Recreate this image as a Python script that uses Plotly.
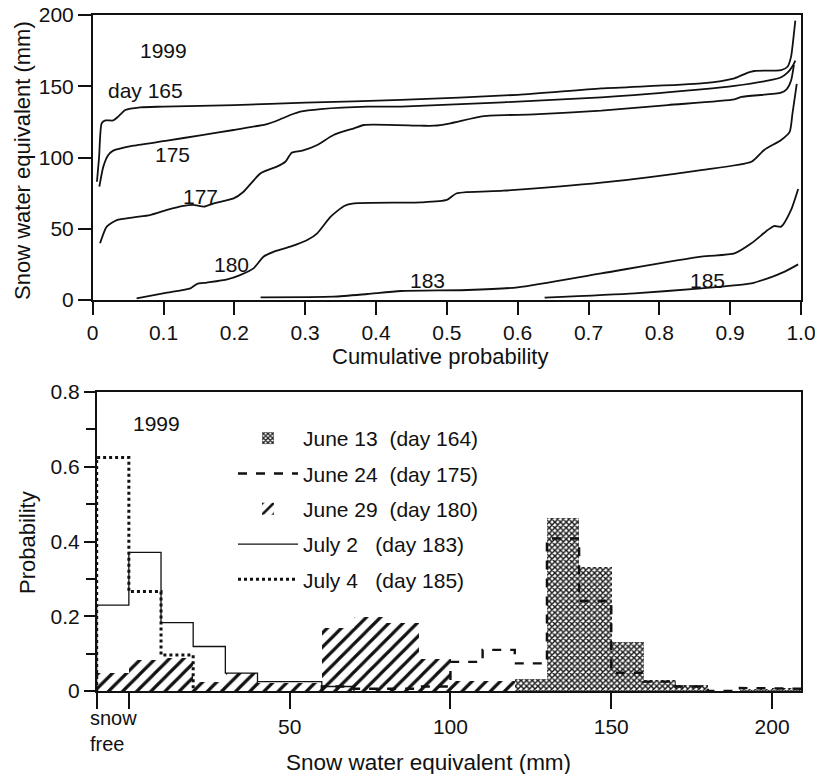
import plotly.graph_objects as go

# ---------------- Top panel: cumulative probability curves ----------------
p165 = [0.006, 0.009, 0.0127, 0.018, 0.029, 0.036, 0.046, 0.067, 0.10, 0.20, 0.30, 0.435, 0.60, 0.718, 0.859, 0.906, 0.925, 0.934, 0.972, 0.981, 0.986, 0.990, 0.992]
v165 = [83, 100, 124, 126, 126, 128.7, 133.3, 135.2, 135.7, 136.8, 138.5, 140.4, 144, 148.5, 152, 155.6, 159.5, 160.7, 161.4, 163.7, 170.8, 187, 196]

p175 = [0.0094, 0.015, 0.022, 0.029, 0.0575, 0.105, 0.152, 0.199, 0.246, 0.26, 0.279, 0.293, 0.322, 0.388, 0.435, 0.718, 0.859, 0.906, 0.953, 0.972, 0.981, 0.988, 0.992]
v175 = [79.5, 93.6, 101.8, 104.8, 108.3, 111.8, 115.6, 119.3, 123.5, 125.8, 129.8, 132.2, 134, 135.7, 135.7, 142.2, 147.8, 150.2, 153.9, 156.3, 159.5, 164, 168]

p177 = [0.0104, 0.0198, 0.034, 0.0575, 0.081, 0.105, 0.128, 0.142, 0.157, 0.171, 0.199, 0.213, 0.237, 0.26, 0.272, 0.281, 0.296, 0.317, 0.34, 0.369, 0.383, 0.463, 0.482, 0.505, 0.552, 0.623, 0.718, 0.812, 0.906, 0.9156, 0.972, 0.980, 0.986, 0.990]
v177 = [39.8, 51.5, 56.1, 58, 59.6, 63.2, 66, 66.7, 65.5, 67.8, 71.3, 76, 88.9, 93.6, 97, 103.4, 104.8, 108.8, 115.8, 120.5, 122.8, 122.3, 122.3, 124, 129, 130.3, 132.9, 136.8, 140.8, 142.5, 145.5, 148, 154, 165]

p180 = [0.062, 0.105, 0.138, 0.147, 0.161, 0.19, 0.208, 0.227, 0.241, 0.256, 0.279, 0.303, 0.317, 0.336, 0.355, 0.369, 0.463, 0.50, 0.514, 0.58, 0.718, 0.859, 0.93, 0.948, 0.972, 0.984, 0.988, 0.994]
v180 = [1.2, 5.1, 8.2, 11.2, 12.2, 14.5, 17.5, 22.2, 30.4, 33.9, 37.4, 42.1, 46.8, 58.5, 66, 67.8, 68.5, 70.2, 74.9, 76.7, 82.3, 91.2, 97, 105.3, 112.3, 118, 131, 151.6]

p183 = [0.237, 0.34, 0.388, 0.435, 0.529, 0.60, 0.718, 0.859, 0.906, 0.93, 0.953, 0.962, 0.972, 0.986, 0.996]
v183 = [1.9, 2.3, 4.2, 6.3, 7.0, 8.9, 18.7, 30.4, 32.7, 39.8, 49.1, 51.9, 51.5, 63.2, 77.9]

p185 = [0.638, 0.765, 0.859, 0.93, 0.953, 0.977, 0.996]
v185 = [1.6, 4.7, 8.2, 11.7, 15.2, 19.9, 25.0]

curve_labels = ["1999", "day 165", "175", "177", "180", "183", "185"]
curve_label_x = [0.0999, 0.0747, 0.112, 0.152, 0.196, 0.472, 0.868]
curve_label_y = [175.4, 146.9, 101.8, 72.5, 24.6, 14.0, 14.0]

top_xticks = [0, 0.1, 0.2, 0.3, 0.4, 0.5, 0.6, 0.7, 0.8, 0.9, 1.0]
top_xticktext = ["0", "0.1", "0.2", "0.3", "0.4", "0.5", "0.6", "0.7", "0.8", "0.9", "1.0"]
top_yticks = [0, 50, 100, 150, 200]

# ---------------- Bottom panel: histograms ----------------
bin_edges = [-10, 0, 10, 20, 30, 40, 50, 60, 70, 80, 90, 100, 110, 120, 130, 140, 150, 160, 170, 180, 190, 200, 210]
june13 = [0, 0, 0, 0, 0, 0, 0, 0, 0, 0, 0, 0, 0, 0.033, 0.462, 0.333, 0.132, 0.030, 0.016, 0, 0.004, 0.008]
june24 = [0, 0, 0, 0, 0, 0, 0, 0.012, 0.006, 0.006, 0.012, 0.078, 0.110, 0.074, 0.408, 0.241, 0.049, 0.025, 0.012, 0, 0.008, 0.006]
june29 = [0.047, 0.084, 0.088, 0.025, 0.048, 0.022, 0.022, 0.168, 0.197, 0.181, 0.086, 0.028, 0.028, 0, 0, 0, 0, 0, 0, 0, 0, 0]
july2 = [0.230, 0.371, 0.183, 0.119, 0.048, 0.025, 0.025, 0.012, 0, 0, 0, 0, 0, 0, 0, 0, 0, 0, 0, 0, 0, 0]
july4 = [0.625, 0.266, 0.096, 0, 0, 0, 0, 0, 0, 0, 0, 0, 0, 0, 0, 0, 0, 0, 0, 0, 0, 0]

series_names = ["June 13  (day 164)", "June 24  (day 175)", "June 29  (day 180)", "July 2   (day 183)", "July 4   (day 185)"]

bot_xticks = [-10, 0, 50, 100, 150, 200]
bot_xticktext = ["", "", "50", "100", "150", "200"]
bot_yticks = [0, 0.2, 0.4, 0.6, 0.8]
bot_yticktext = ["0", "0.2", "0.4", "0.6", "0.8"]

FONT = "Liberation Sans, Arial, sans-serif"
INK = "#111111"

W, H = 815, 774


def px_x(px):
    return px / W


def px_y(py):
    return 1 - py / H


def step_xy(edges, vals):
    nz = [i for i, v in enumerate(vals) if v > 0]
    lo, hi = nz[0], nz[-1]
    xs, ys = [edges[lo]], [0]
    for i in range(lo, hi + 1):
        xs += [edges[i], edges[i + 1]]
        ys += [vals[i], vals[i]]
    xs.append(edges[hi + 1])
    ys.append(0)
    return xs, ys


centers = [(bin_edges[i] + bin_edges[i + 1]) / 2 for i in range(len(bin_edges) - 1)]
widths = [bin_edges[i + 1] - bin_edges[i] for i in range(len(bin_edges) - 1)]

fig = go.Figure()

for p, v in [(p165, v165), (p175, v175), (p177, v177), (p180, v180), (p183, v183), (p185, v185)]:
    fig.add_trace(go.Scatter(x=p, y=v, mode="lines", xaxis="x", yaxis="y",
                             line=dict(color=INK, width=1.8, shape="spline", smoothing=0.6),
                             showlegend=False, hoverinfo="skip"))

# bars
fig.add_trace(go.Bar(x=centers, y=june13, width=widths, xaxis="x2", yaxis="y2",
                     name=series_names[0], legendgroup="a", legendrank=1,
                     marker=dict(color="#333333", line=dict(width=0),
                                 pattern=dict(shape="x", fgcolor="#1a1a1a", bgcolor="#ffffff",
                                              size=4, solidity=0.6, fillmode="replace"))))
fig.add_trace(go.Bar(x=centers, y=june29, width=widths, xaxis="x2", yaxis="y2",
                     name=series_names[2], legendgroup="c", legendrank=3,
                     marker=dict(color="#111111", line=dict(width=0),
                                 pattern=dict(shape="/", fgcolor="#111111", bgcolor="rgba(255,255,255,0)",
                                              size=10, solidity=0.32, fillmode="replace"))))

for vals, name, grp, rank, dash, wdt in [(june24, series_names[1], "b", 2, "dash", 2.4),
                                        (july2, series_names[3], "d", 4, "solid", 1.3),
                                        (july4, series_names[4], "e", 5, "dot", 3.0)]:
    xs, ys = step_xy(bin_edges, vals)
    fig.add_trace(go.Scatter(x=xs, y=ys, mode="lines", xaxis="x2", yaxis="y2",
                             name=name, legendgroup=grp, legendrank=rank,
                             line=dict(color=INK, width=wdt, dash=dash), hoverinfo="skip"))

axis_common = dict(showline=True, linecolor=INK, linewidth=1.5, mirror=True, ticks="outside",
                   tickcolor=INK, tickwidth=1.5, showgrid=False, zeroline=False, automargin=False,
                   ticklabeloverflow="allow",
                   tickfont=dict(family=FONT, size=21, color=INK))

annotations = []
for t, x, y in zip(curve_labels, curve_label_x, curve_label_y):
    annotations.append(dict(text=t, x=x, y=y, xref="x", yref="y", showarrow=False,
                            xanchor="center", yanchor="middle",
                            font=dict(family=FONT, size=21, color=INK)))


def paper_text(text, x, y, size=22, angle=0, xanchor="center", align="center"):
    return dict(text=text, x=px_x(x), y=px_y(y), xref="paper", yref="paper", showarrow=False,
                textangle=angle, xanchor=xanchor, yanchor="middle", align=align,
                font=dict(family=FONT, size=size, color=INK))


annotations += [
    paper_text("Cumulative probability", 440, 356),
    paper_text("Snow water equivalent (mm)", 22, 161, angle=-90),
    paper_text("Snow water equivalent (mm)", 428, 762, size=22.5),
    paper_text("Probability", 27, 543, angle=-90),
    paper_text("snow<br>free", 88, 731, size=20, xanchor="left", align="left"),
    dict(text="1999", x=8.5, y=0.717, xref="x2", yref="y2", showarrow=False,
         xanchor="center", yanchor="middle", font=dict(family=FONT, size=21, color=INK)),
    dict(text="", x=0, y=-0.026, ax=-10, ay=-0.026, xref="x2", yref="y2", axref="x2", ayref="y2",
         showarrow=True, arrowhead=2, arrowside="end+start", arrowsize=1.2, arrowwidth=1.5,
         arrowcolor=INK, startarrowhead=2, startarrowsize=1.2, standoff=1, startstandoff=1),
]

fig.update_layout(
    width=W, height=H, margin=dict(l=0, r=0, t=0, b=0, autoexpand=False),
    paper_bgcolor="white", plot_bgcolor="white",
    barmode="overlay", bargap=0,
    font=dict(family=FONT, color=INK),
    xaxis=dict(domain=[px_x(92.7), px_x(801)], range=[0, 1.0], anchor="y",
               tickvals=top_xticks, ticktext=top_xticktext, ticklen=13, **axis_common),
    yaxis=dict(domain=[px_y(300), px_y(15)], range=[0, 200], anchor="x",
               tickvals=top_yticks, ticklen=13, **axis_common),
    xaxis2=dict(domain=[px_x(96.7), px_x(801)], range=[-10, 209], anchor="y2",
                tickvals=bot_xticks, ticktext=bot_xticktext, ticklen=16, **axis_common),
    yaxis2=dict(domain=[px_y(691), px_y(392)], range=[0, 0.8], anchor="x2",
                tickvals=bot_yticks, ticktext=bot_yticktext, ticklen=11,
                minor=dict(tickvals=[0.1, 0.3, 0.5, 0.7], ticklen=9, ticks="outside",
                           tickcolor=INK, tickwidth=1.5),
                **axis_common),
    legend=dict(x=px_x(233), y=px_y(418), xanchor="left", yanchor="top",
                bgcolor="rgba(0,0,0,0)", borderwidth=0,
                font=dict(family=FONT, size=21, color=INK),
                traceorder="grouped", tracegroupgap=5, itemwidth=60),
    annotations=annotations,
)

fig.write_html("out.html", config={"displayModeBar": False},
               post_script="document.body.style.margin='0';document.body.style.padding='0';")
